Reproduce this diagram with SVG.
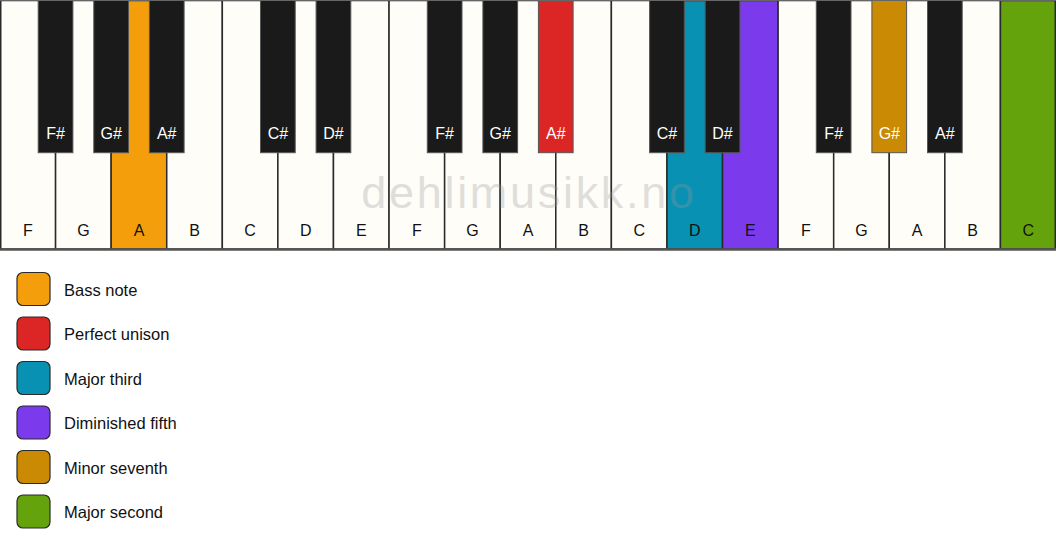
<svg xmlns="http://www.w3.org/2000/svg" width="1056" height="550" viewBox="0 0 1056 550">
<style>
.w{fill:#fffdf8;stroke:#2a2a2a;stroke-width:1.5}
.b{fill:#1a1a1a;stroke:#555;stroke-width:1}
.lw{font-family:"Liberation Sans",Arial,sans-serif;font-size:16px;fill:#111;text-anchor:middle}
.lb{font-family:"Liberation Sans",Arial,sans-serif;font-size:16px;fill:#fff;text-anchor:middle}
.sw{stroke:#2a2a2a;stroke-width:1.2}
.lt{font-family:"Liberation Sans",Arial,sans-serif;font-size:16.5px;fill:#111}
.wm{font-family:"Liberation Sans",Arial,sans-serif;font-size:45px;fill:#999;opacity:0.3;text-anchor:middle;letter-spacing:2.7px}
</style>
<rect x="0" y="0" width="1056" height="550" fill="#fff"/>
<g id="white-keys">
<g id="w-F1"><rect class="w" x="0.75" y="0.5" width="54.83" height="248.5"/><text class="lw" x="27.8" y="236">F</text></g>
<g id="w-G1"><rect class="w" x="55.58" y="0.5" width="55.58" height="248.5"/><text class="lw" x="83.4" y="236">G</text></g>
<g id="w-A1"><rect class="w" x="111.16" y="0.5" width="55.58" height="248.5" style="fill:#f59e0b"/><text class="lw" x="139" y="236">A</text></g>
<g id="w-B1"><rect class="w" x="166.74" y="0.5" width="55.58" height="248.5"/><text class="lw" x="194.5" y="236">B</text></g>
<g id="w-C1"><rect class="w" x="222.32" y="0.5" width="55.58" height="248.5"/><text class="lw" x="250.1" y="236">C</text></g>
<g id="w-D1"><rect class="w" x="277.89" y="0.5" width="55.58" height="248.5"/><text class="lw" x="305.7" y="236">D</text></g>
<g id="w-E1"><rect class="w" x="333.47" y="0.5" width="55.58" height="248.5"/><text class="lw" x="361.3" y="236">E</text></g>
<g id="w-F2"><rect class="w" x="389.05" y="0.5" width="55.58" height="248.5"/><text class="lw" x="416.8" y="236">F</text></g>
<g id="w-G2"><rect class="w" x="444.63" y="0.5" width="55.58" height="248.5"/><text class="lw" x="472.4" y="236">G</text></g>
<g id="w-A2"><rect class="w" x="500.21" y="0.5" width="55.58" height="248.5"/><text class="lw" x="528" y="236">A</text></g>
<g id="w-B2"><rect class="w" x="555.79" y="0.5" width="55.58" height="248.5"/><text class="lw" x="583.6" y="236">B</text></g>
<g id="w-C2"><rect class="w" x="611.37" y="0.5" width="55.58" height="248.5"/><text class="lw" x="639.2" y="236">C</text></g>
<g id="w-D2"><rect class="w" x="666.95" y="0.5" width="55.58" height="248.5" style="fill:#0891b2"/><text class="lw" x="694.7" y="236">D</text></g>
<g id="w-E2"><rect class="w" x="722.53" y="0.5" width="55.58" height="248.5" style="fill:#7c3aed"/><text class="lw" x="750.3" y="236">E</text></g>
<g id="w-F3"><rect class="w" x="778.11" y="0.5" width="55.58" height="248.5"/><text class="lw" x="805.9" y="236">F</text></g>
<g id="w-G3"><rect class="w" x="833.68" y="0.5" width="55.58" height="248.5"/><text class="lw" x="861.5" y="236">G</text></g>
<g id="w-A3"><rect class="w" x="889.26" y="0.5" width="55.58" height="248.5"/><text class="lw" x="917.1" y="236">A</text></g>
<g id="w-B3"><rect class="w" x="944.84" y="0.5" width="55.58" height="248.5"/><text class="lw" x="972.6" y="236">B</text></g>
<g id="w-C3"><rect class="w" x="1000.42" y="0.5" width="54.83" height="248.5" style="fill:#65a30d"/><text class="lw" x="1028.2" y="236">C</text></g>
</g>
<line x1="0" y1="249.5" x2="1056" y2="249.5" stroke="#555" stroke-width="2.5"/>
<g id="black-keys">
<g id="b-Fs1"><rect class="b" x="38.2" y="0" width="34.7" height="152.7"/><text class="lb" x="55.6" y="139">F#</text></g>
<g id="b-Gs1"><rect class="b" x="93.8" y="0" width="34.7" height="152.7"/><text class="lb" x="111.2" y="139">G#</text></g>
<g id="b-As1"><rect class="b" x="149.4" y="0" width="34.7" height="152.7"/><text class="lb" x="166.7" y="139">A#</text></g>
<g id="b-Cs1"><rect class="b" x="260.5" y="0" width="34.7" height="152.7"/><text class="lb" x="277.9" y="139">C#</text></g>
<g id="b-Ds1"><rect class="b" x="316.1" y="0" width="34.7" height="152.7"/><text class="lb" x="333.5" y="139">D#</text></g>
<g id="b-Fs2"><rect class="b" x="427.3" y="0" width="34.7" height="152.7"/><text class="lb" x="444.6" y="139">F#</text></g>
<g id="b-Gs2"><rect class="b" x="482.9" y="0" width="34.7" height="152.7"/><text class="lb" x="500.2" y="139">G#</text></g>
<g id="b-As2"><rect class="b" x="538.4" y="0" width="34.7" height="152.7" style="fill:#dc2626"/><text class="lb" x="555.8" y="139">A#</text></g>
<g id="b-Cs2"><rect class="b" x="649.6" y="0" width="34.7" height="152.7"/><text class="lb" x="667" y="139">C#</text></g>
<g id="b-Ds2"><rect class="b" x="705.2" y="0" width="34.7" height="152.7"/><text class="lb" x="722.5" y="139">D#</text></g>
<g id="b-Fs3"><rect class="b" x="816.3" y="0" width="34.7" height="152.7"/><text class="lb" x="833.7" y="139">F#</text></g>
<g id="b-Gs3"><rect class="b" x="871.9" y="0" width="34.7" height="152.7" style="fill:#ca8a04"/><text class="lb" x="889.3" y="139">G#</text></g>
<g id="b-As3"><rect class="b" x="927.5" y="0" width="34.7" height="152.7"/><text class="lb" x="944.8" y="139">A#</text></g>
</g>
<line x1="0" y1="0.5" x2="1056" y2="0.5" stroke="#666" stroke-width="1"/>
<text class="wm" x="529" y="208">dehlimusikk.no</text>
<g id="connectors"></g>
<g id="legend">
<g id="lg-bass"><rect class="sw" x="17" y="272.5" width="33" height="33" rx="6" fill="#f59e0b"/><text class="lt" x="64" y="295.5">Bass note</text></g>
<g id="lg-unison"><rect class="sw" x="17" y="317" width="33" height="33" rx="6" fill="#dc2626"/><text class="lt" x="64" y="340">Perfect unison</text></g>
<g id="lg-third"><rect class="sw" x="17" y="361.5" width="33" height="33" rx="6" fill="#0891b2"/><text class="lt" x="64" y="384.5">Major third</text></g>
<g id="lg-fifth"><rect class="sw" x="17" y="406" width="33" height="33" rx="6" fill="#7c3aed"/><text class="lt" x="64" y="429">Diminished fifth</text></g>
<g id="lg-seventh"><rect class="sw" x="17" y="450.5" width="33" height="33" rx="6" fill="#ca8a04"/><text class="lt" x="64" y="473.5">Minor seventh</text></g>
<g id="lg-second"><rect class="sw" x="17" y="495" width="33" height="33" rx="6" fill="#65a30d"/><text class="lt" x="64" y="518">Major second</text></g>
</g>
</svg>
